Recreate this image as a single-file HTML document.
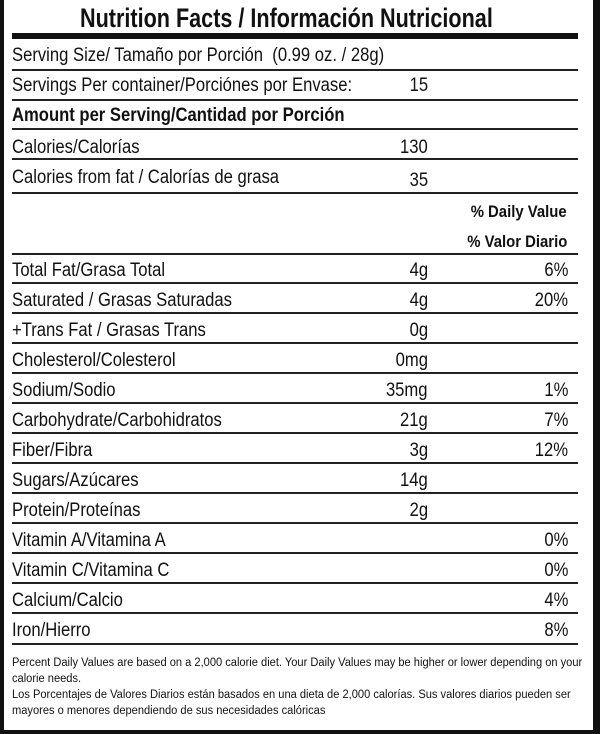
<!DOCTYPE html>
<html><head><meta charset="utf-8">
<style>
html,body{margin:0;padding:0;background:#fff;}
#c{position:relative;width:600px;height:734px;overflow:hidden;background:#fff;font-family:"Liberation Sans",sans-serif;color:#111;}
.l{position:absolute;left:12px;width:566px;height:2px;background:#222;}
.t{position:absolute;font-size:19px;line-height:20px;white-space:nowrap;transform:scaleX(0.875);transform-origin:left top;}
.r{position:absolute;font-size:19px;line-height:20px;white-space:nowrap;transform:scaleX(0.875);transform-origin:right top;text-align:right;}
.b{font-weight:bold;}
.f{position:absolute;left:12px;font-size:11.5px;line-height:16px;white-space:nowrap;transform:scaleX(0.965);transform-origin:left top;}
</style></head><body><div id="c">
<div style="position:absolute;left:0;top:0;width:4px;height:734px;background:#111"></div>
<div style="position:absolute;left:593px;top:0;width:7px;height:734px;background:#111"></div>
<div style="position:absolute;left:0;top:730px;width:600px;height:4px;background:#111"></div>
<div style="position:absolute;left:12px;top:33px;width:566px;height:6px;background:#111"></div>
<div class="t b" style="left:80px;top:3px;font-size:27px;line-height:30px;transform:scaleX(0.80)">Nutrition Facts / Información Nutricional</div>

<div class="l" style="top:69px"></div>
<div class="l" style="top:99px"></div>
<div class="l" style="top:128px"></div>
<div class="l" style="top:158px"></div>
<div class="l" style="top:192px"></div>
<div class="l" style="top:253px"></div>
<div class="l" style="top:282px"></div>
<div class="l" style="top:312px"></div>
<div class="l" style="top:342px"></div>
<div class="l" style="top:372px"></div>
<div class="l" style="top:402px"></div>
<div class="l" style="top:432px"></div>
<div class="l" style="top:462px"></div>
<div class="l" style="top:492px"></div>
<div class="l" style="top:522px"></div>
<div class="l" style="top:552px"></div>
<div class="l" style="top:582px"></div>
<div class="l" style="top:612px"></div>
<div class="l" style="top:643px"></div>

<div class="t" style="left:12px;top:46px">Serving Size/ Tamaño por Porción&nbsp; (0.99 oz. / 28g)</div>
<div class="t" style="left:12px;top:76px">Servings Per container/Porciónes por Envase:</div>
<div class="r" style="right:172px;top:76px">15</div>
<div class="t b" style="left:12px;top:106px">Amount per Serving/Cantidad por Porción</div>
<div class="t" style="left:12px;top:138px">Calories/Calorías</div>
<div class="r" style="right:172px;top:138px">130</div>
<div class="t" style="left:12px;top:168px">Calories from fat / Calorías de grasa</div>
<div class="r" style="right:172px;top:171px">35</div>
<div class="r b" style="right:33px;top:202px;font-size:17px">% Daily Value</div>
<div class="r b" style="right:33px;top:232px;font-size:17px">% Valor Diario</div>

<div class="t" style="left:12px;top:261px">Total Fat/Grasa Total</div><div class="r" style="right:32px;top:261px">6%</div><div class="r" style="right:172px;top:261px">4g</div>
<div class="t" style="left:12px;top:291px">Saturated / Grasas Saturadas</div><div class="r" style="right:172px;top:291px">4g</div><div class="r" style="right:32px;top:291px">20%</div>
<div class="t" style="left:12px;top:321px">+Trans Fat / Grasas Trans</div><div class="r" style="right:172px;top:321px">0g</div>
<div class="t" style="left:12px;top:351px">Cholesterol/Colesterol</div><div class="r" style="right:172px;top:351px">0mg</div>
<div class="t" style="left:12px;top:381px">Sodium/Sodio</div><div class="r" style="right:172px;top:381px">35mg</div><div class="r" style="right:32px;top:381px">1%</div>
<div class="t" style="left:12px;top:411px">Carbohydrate/Carbohidratos</div><div class="r" style="right:172px;top:411px">21g</div><div class="r" style="right:32px;top:411px">7%</div>
<div class="t" style="left:12px;top:441px">Fiber/Fibra</div><div class="r" style="right:172px;top:441px">3g</div><div class="r" style="right:32px;top:441px">12%</div>
<div class="t" style="left:12px;top:471px">Sugars/Azúcares</div><div class="r" style="right:172px;top:471px">14g</div>
<div class="t" style="left:12px;top:501px">Protein/Proteínas</div><div class="r" style="right:172px;top:501px">2g</div>
<div class="t" style="left:12px;top:531px">Vitamin A/Vitamina A</div><div class="r" style="right:32px;top:531px">0%</div>
<div class="t" style="left:12px;top:561px">Vitamin C/Vitamina C</div><div class="r" style="right:32px;top:561px">0%</div>
<div class="t" style="left:12px;top:591px">Calcium/Calcio</div><div class="r" style="right:32px;top:591px">4%</div>
<div class="t" style="left:12px;top:621px">Iron/Hierro</div><div class="r" style="right:32px;top:621px">8%</div>

<div class="f" style="top:655px">Percent Daily Values are based on a 2,000 calorie diet. Your Daily Values may be higher or lower depending on your</div>
<div class="f" style="top:671px">calorie needs.</div>
<div class="f" style="top:687px">Los Porcentajes de Valores Diarios están basados en una dieta de 2,000 calorías. Sus valores diarios pueden ser</div>
<div class="f" style="top:703px">mayores o menores dependiendo de sus necesidades calóricas</div>
</div></body></html>
